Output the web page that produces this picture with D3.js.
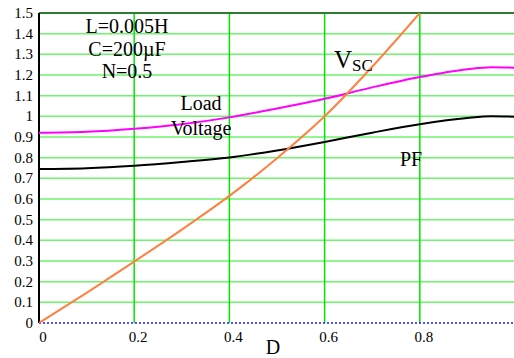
<!DOCTYPE html>
<html>
<head>
<meta charset="utf-8">
<script src="https://cdn.jsdelivr.net/npm/d3@7"></script>
<style>
  body { margin: 0; background: #fff; }
  text { font-family: "Liberation Serif", serif; }
</style>
</head>
<body>
<div id="container"></div>
<script>
// data
const dVals   = [0, 0.1, 0.2, 0.3, 0.4, 0.5, 0.6, 0.7, 0.8, 0.9, 0.95, 1.0];
const loadV   = [0.92, 0.925, 0.94, 0.962, 0.995, 1.038, 1.085, 1.14, 1.19, 1.228, 1.238, 1.235];
const pfVals  = [0.745, 0.749, 0.761, 0.779, 0.801, 0.835, 0.876, 0.921, 0.962, 0.992, 1.0, 0.998];
const vscD    = [0, 0.1, 0.2, 0.3, 0.4, 0.5, 0.6, 0.7, 0.8];
const vscVals = [0, 0.146, 0.297, 0.452, 0.615, 0.797, 1.0, 1.24, 1.5];
const xTicks  = [0, 0.2, 0.4, 0.6, 0.8];
const yTicks  = [0, 0.1, 0.2, 0.3, 0.4, 0.5, 0.6, 0.7, 0.8, 0.9, 1, 1.1, 1.2, 1.3, 1.4, 1.5];
const notes   = ["L=0.005H", "C=200\u00b5F", "N=0.5"];

const width = 514, height = 358;
const margin = { top: 13, bottom: 35, left: 39, right: -1 };

const svg = d3.select("#container").append("svg")
    .attr("width", width)
    .attr("height", height);

const x = d3.scaleLinear().domain([0, 1]).range([margin.left, width - margin.right]);
const y = d3.scaleLinear().domain([0, 1.5]).range([height - margin.bottom, margin.top]);

// grid
svg.selectAll("line.hgrid")
    .data(yTicks.filter(d => d > 0 && d < 1.5))
    .join("line")
    .attr("class", "hgrid")
    .attr("x1", x(0)).attr("x2", width)
    .attr("y1", d => y(d)).attr("y2", d => y(d))
    .attr("stroke", "#6cf56c")
    .attr("stroke-width", 1.5);

svg.selectAll("line.vgrid")
    .data(xTicks.filter(d => d > 0))
    .join("line")
    .attr("class", "vgrid")
    .attr("x1", d => x(d)).attr("x2", d => x(d))
    .attr("y1", y(0)).attr("y2", y(1.5))
    .attr("stroke", "#00e600")
    .attr("stroke-width", 1.5);

// top border
svg.append("line")
    .attr("x1", x(0)).attr("x2", width)
    .attr("y1", y(1.5)).attr("y2", y(1.5))
    .attr("stroke", "#2e7d2e").attr("stroke-width", 2);

// bottom dotted
svg.append("line")
    .attr("x1", x(0)).attr("x2", width)
    .attr("y1", y(0)).attr("y2", y(0))
    .attr("stroke", "#1a1aff").attr("stroke-width", 1.5)
    .attr("stroke-dasharray", "2,2");

// left axis
svg.append("line")
    .attr("x1", x(0)).attr("x2", x(0))
    .attr("y1", y(0)).attr("y2", y(1.5))
    .attr("stroke", "#000").attr("stroke-width", 2);

// tick labels
svg.selectAll("text.ylab")
    .data(yTicks)
    .join("text")
    .attr("class", "ylab")
    .attr("x", 33)
    .attr("y", d => y(d) + 5)
    .attr("text-anchor", "end")
    .attr("font-size", 15)
    .text(d => d);

svg.selectAll("text.xlab")
    .data(xTicks)
    .join("text")
    .attr("class", "xlab")
    .attr("x", d => x(d) + 4)
    .attr("y", y(0) + 19)
    .attr("text-anchor", "middle")
    .attr("font-size", 15)
    .text(d => d);

svg.append("text")
    .attr("x", 273).attr("y", 354)
    .attr("text-anchor", "middle")
    .attr("font-size", 20)
    .text("D");

// curves
svg.append("clipPath").attr("id", "clip")
    .append("rect")
    .attr("x", x(0)).attr("y", y(1.5))
    .attr("width", width - x(0)).attr("height", y(0) - y(1.5));

const line = d3.line().curve(d3.curveMonotoneX);

const g = svg.append("g").attr("clip-path", "url(#clip)");

g.append("path")
    .attr("d", line(dVals.map((d, i) => [x(d), y(pfVals[i])])))
    .attr("fill", "none").attr("stroke", "#000").attr("stroke-width", 2);

g.append("path")
    .attr("d", line(dVals.map((d, i) => [x(d), y(loadV[i])])))
    .attr("fill", "none").attr("stroke", "#ff00ff").attr("stroke-width", 2);

g.append("path")
    .attr("d", line(vscD.map((d, i) => [x(d), y(vscVals[i])])))
    .attr("fill", "none").attr("stroke", "#ff8040").attr("stroke-width", 2);

// annotations
svg.selectAll("text.note")
    .data(notes)
    .join("text")
    .attr("class", "note")
    .attr("x", 127)
    .attr("y", (d, i) => 33 + i * 22.5)
    .attr("text-anchor", "middle")
    .attr("font-size", 20)
    .text(d => d);

svg.append("text").attr("x", 201).attr("y", 110)
    .attr("text-anchor", "middle").attr("font-size", 20).text("Load");
svg.append("text").attr("x", 201).attr("y", 135)
    .attr("text-anchor", "middle").attr("font-size", 20).text("Voltage");

const vsc = svg.append("text").attr("x", 334).attr("y", 68).attr("font-size", 25);
vsc.append("tspan").text("V");
vsc.append("tspan").attr("font-size", 17).attr("dy", 3).text("SC");

svg.append("text").attr("x", 400).attr("y", 166)
    .attr("font-size", 20).text("PF");
</script>
</body>
</html>
